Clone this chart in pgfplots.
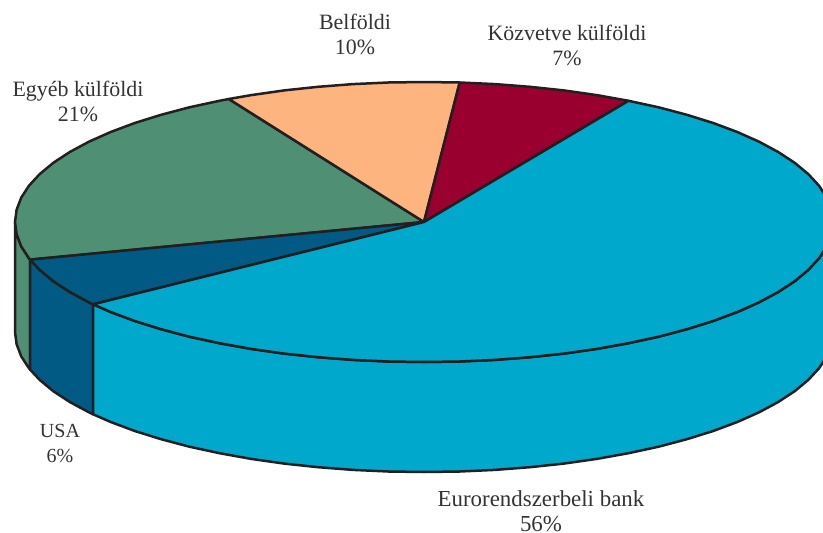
\documentclass[border=0pt]{standalone}
\usepackage{fontspec}
\setmainfont{Liberation Serif}
\usepackage{pgfplots}
\pgfplotsset{compat=1.18}
\definecolor{eurob}{HTML}{00A9CB}
\definecolor{usab}{HTML}{005A84}
\definecolor{egyeb}{HTML}{4F9074}
\definecolor{belf}{HTML}{FDB47F}
\definecolor{kozv}{HTML}{99002F}
\definecolor{rim}{HTML}{231F20}
\definecolor{txt}{HTML}{333333}
\tikzset{lab/.style={font=\fontsize{#1}{25}\selectfont,text=txt,align=center,inner sep=0pt,anchor=center},lab/.default=21.9}
\begin{document}
\begin{tikzpicture}
\begin{axis}[
 scale only axis,width=823pt,height=533pt,
 xmin=0,xmax=823,ymin=0,ymax=533,y dir=reverse,
 hide axis,
 every axis plot/.append style={draw=rim,line width=2.5pt,line join=round}]
% side walls, pixel coordinates
\addplot[fill=egyeb] coordinates {(15,222) (16.6,234.2) (21.2,246.3) (28.9,258.2) (30.1,259.6)
 (30.1,369.6) (28.9,368.2) (21.2,356.3) (16.6,344.2) (15,332)} -- cycle;
\addplot[fill=usab] coordinates {(30.1,259.6) (39.7,269.9) (53.3,281.2) (69.8,292) (88.9,302.3) (93.1,304.3)
 (93.1,414.3) (88.9,412.3) (69.8,402) (53.3,391.2) (39.7,379.9) (30.1,369.6)} -- cycle;
\addplot[fill=eurob] coordinates {(93.1,304.3) (110.7,312) (134.8,321) (161.1,329.2) (189.4,336.7) (219.5,343.2)
 (251.2,348.9) (284.1,353.6) (318.1,357.2) (353,359.9) (388.3,361.5) (424,362) (459.7,361.5) (495,359.9)
 (529.9,357.2) (563.9,353.6) (596.8,348.9) (628.5,343.2) (658.6,336.7) (686.9,329.2) (713.2,321) (737.3,312)
 (759.1,302.3) (778.2,292) (794.7,281.2) (808.3,269.9) (819.1,258.2) (826.8,246.3) (831.4,234.2) (833,222)
 (833,332) (831.4,344.2) (826.8,356.3) (819.1,368.2) (808.3,379.9) (794.7,391.2) (778.2,402) (759.1,412.3)
 (737.3,422) (713.2,431) (686.9,439.2) (658.6,446.7) (628.5,453.2) (596.8,458.9) (563.9,463.6) (529.9,467.2)
 (495,469.9) (459.7,471.5) (424,472) (388.3,471.5) (353,469.9) (318.1,467.2) (284.1,463.6) (251.2,458.9)
 (219.5,453.2) (189.4,446.7) (161.1,439.2) (134.8,431) (110.7,422) (93.1,414.3)} -- cycle;
% top slices
\addplot[fill=egyeb] coordinates {(424,222) (30.1,259.6) (28.9,258.2) (21.2,246.3) (16.6,234.2) (15,222)
 (16.6,209.8) (21.2,197.7) (28.9,185.8) (39.7,174.1) (53.3,162.8) (69.8,152) (88.9,141.7) (110.7,132)
 (134.8,123) (161.1,114.8) (189.4,107.3) (219.5,100.8) (228.8,99)} -- cycle;
\addplot[fill=belf] coordinates {(424,222) (228.8,99) (251.2,95.1) (284.1,90.4) (318.1,86.8) (353,84.1)
 (388.3,82.5) (424,82) (459.7,82.5)} -- cycle;
\addplot[fill=kozv] coordinates {(424,222) (459.7,82.5) (495,84.1) (529.9,86.8) (563.9,90.4) (596.8,95.1)
 (628.5,100.8)} -- cycle;
\addplot[fill=usab] coordinates {(424,222) (93.1,304.3) (88.9,302.3) (69.8,292) (53.3,281.2) (39.7,269.9)
 (30.1,259.6)} -- cycle;
\addplot[fill=eurob] coordinates {(424,222) (628.5,100.8) (658.6,107.3) (686.9,114.8) (713.2,123) (737.3,132)
 (759.1,141.7) (778.2,152) (794.7,162.8) (808.3,174.1) (819.1,185.8) (826.8,197.7) (831.4,209.8) (833,222)
 (831.4,234.2) (826.8,246.3) (819.1,258.2) (808.3,269.9) (794.7,281.2) (778.2,292) (759.1,302.3) (737.3,312)
 (713.2,321) (686.9,329.2) (658.6,336.7) (628.5,343.2) (596.8,348.9) (563.9,353.6) (529.9,357.2) (495,359.9)
 (459.7,361.5) (424,362) (388.3,361.5) (353,359.9) (318.1,357.2) (284.1,353.6) (251.2,348.9) (219.5,343.2)
 (189.4,336.7) (161.1,329.2) (134.8,321) (110.7,312) (93.1,304.3)} -- cycle;
\node[lab] at (axis cs:355,34) {Belföldi\\10\%};
\node[lab] at (axis cs:567,45.5) {Közvetve külföldi\\7\%};
\node[lab] at (axis cs:78,101.5) {Egyéb külföldi\\21\%};
\node[lab=20] at (axis cs:60,444) {USA\\6\%};
\node[lab=22.9] at (axis cs:541,511) {Eurorendszerbeli bank\\56\%};
\end{axis}
\pgfresetboundingbox
\path[use as bounding box] (0,0) rectangle (823pt,533pt);
\end{tikzpicture}
\end{document}
